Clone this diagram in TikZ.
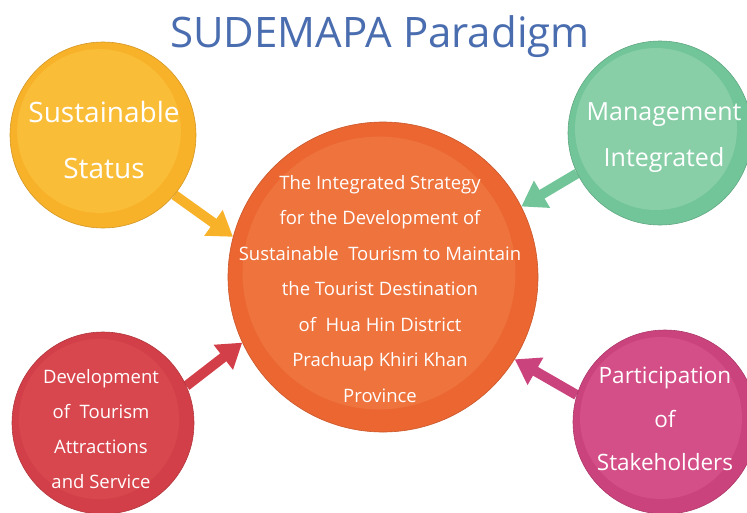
\documentclass[tikz,border=0pt]{standalone}
\usepackage{fontspec}
\setmainfont{Open Sans}
\usetikzlibrary{arrows.meta,backgrounds}
\definecolor{titleblue}{HTML}{4A6DB0}
\definecolor{yelO}{HTML}{F8B22A}
\definecolor{yelI}{HTML}{FABD37}
\definecolor{orgO}{HTML}{EC6632}
\definecolor{orgI}{HTML}{EE733D}
\definecolor{grnO}{HTML}{72C599}
\definecolor{grnI}{HTML}{88CFA8}
\definecolor{redO}{HTML}{D23F48}
\definecolor{redI}{HTML}{D8474E}
\definecolor{magO}{HTML}{CB437D}
\definecolor{magI}{HTML}{D44E88}
\tikzset{
  bubble/.style n args={3}{circle, inner sep=0pt, minimum size=#1, fill=#2,
    draw=#2!85!black, line width=0.6pt,
    path picture={\fill[#3] ([xshift=-4pt,yshift=4pt]path picture bounding box.center) circle ({0.44*#1});}},
  bubtext/.style={text=white, align=center, inner sep=0pt},
  flow/.style={line width=10pt, -{Triangle[length=24pt,width=30pt]}},
}
\begin{document}
\begin{tikzpicture}[x=1pt,y=-1pt]
\useasboundingbox (0,0) rectangle (747,512);
\node[text=titleblue, font=\fontsize{42}{50}\selectfont] (title) at (380,37) {SUDEMAPA Paradigm};

\node[bubble={310pt}{orgO}{orgI}] (ctr) at (383,277) {};
\node[bubble={186pt}{yelO}{yelI}] (yel) at (103,135) {};
\node[bubble={184pt}{grnO}{grnI}] (grn) at (660,133) {};
\node[bubble={182pt}{redO}{redI}] (red) at (103,423) {};
\node[bubble={184pt}{magO}{magI}] (mag) at (665,422) {};

\begin{scope}[on background layer]
  \fill[white] (0,0) rectangle (747,512);
  \draw[flow, yelO] (yel.-40) -- (ctr.165);
  \draw[flow, grnO] (grn.206) -- (ctr.27);
  \draw[flow, redO] (red.24) -- (ctr.205);
  \draw[flow, magO] (mag.163) -- (ctr.-32);
\end{scope}

\node[bubtext, font=\fontsize{18.5}{35.5}\selectfont] (ctrtxt) at (380,289)
  {The Integrated Strategy\\for the Development of\\Sustainable\ \ Tourism to Maintain\\the Tourist Destination\\of\ \ Hua Hin District\\Prachuap Khiri Khan\\Province};
\node[bubtext, font=\fontsize{28}{56}\selectfont] (yeltxt) at (104,140) {Sustainable\\Status};
\node[bubtext, font=\fontsize{25}{46}\selectfont] (grntxt) at (664,138) {Management\\Integrated};
\node[bubtext, font=\fontsize{18.5}{35}\selectfont] (redtxt) at (101,429) {Development\\of\ \ Tourism\\Attractions\\and Service};
\node[bubtext, font=\fontsize{22.5}{43.5}\selectfont] (magtxt) at (665,419) {Participation\\of\\Stakeholders};
\end{tikzpicture}
\end{document}
